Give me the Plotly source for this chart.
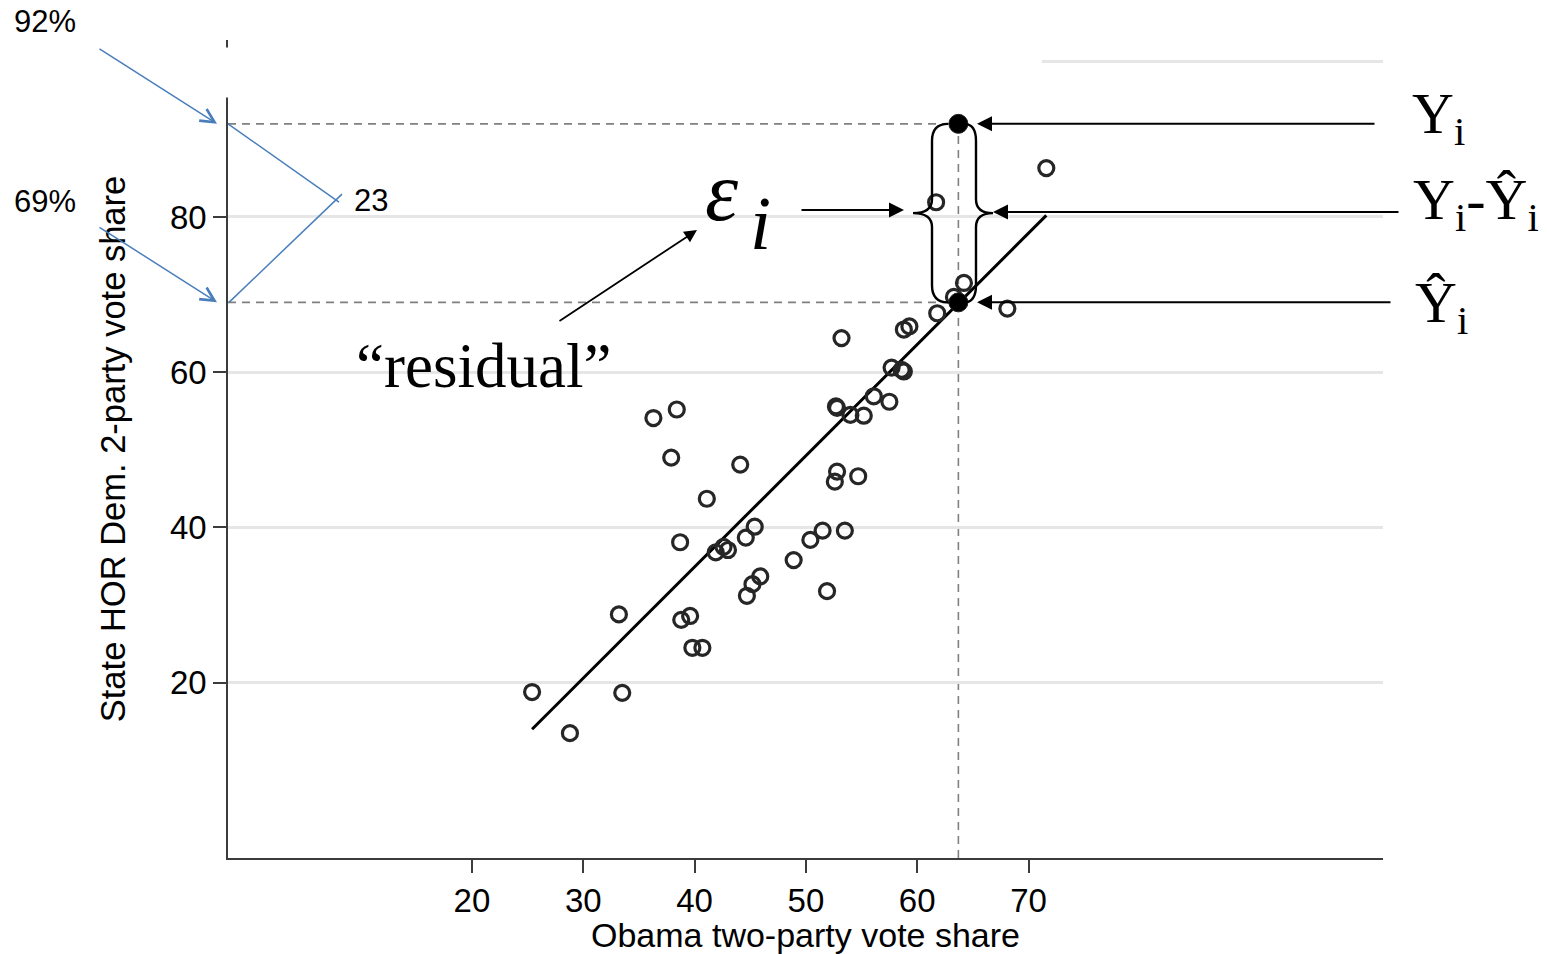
import plotly.graph_objects as go

# Obama two-party vote share (x) vs. State House Democratic 2-party vote share (y)
obama_share = [25.4, 28.8, 33.2, 33.5, 36.3, 38.4, 37.9, 38.7, 38.8, 39.6,
               39.8, 40.7, 41.1, 41.9, 42.6, 43.0, 44.1, 44.6, 45.4, 44.7,
               45.2, 45.9, 48.9, 50.4, 51.5, 51.9, 53.2, 52.7, 52.8, 54.0,
               55.2, 52.8, 52.6, 54.7, 53.5, 56.1, 57.5, 57.7, 58.6, 58.8,
               58.8, 59.3, 61.8, 61.7, 71.6, 64.2, 63.3, 68.1, 63.7]
house_dem_share = [18.8, 13.5, 28.8, 18.7, 54.1, 55.2, 49.0, 38.1, 28.1, 28.6,
                   24.5, 24.5, 43.7, 36.8, 37.5, 37.1, 48.1, 38.7, 40.1, 31.2,
                   32.7, 33.7, 35.8, 38.4, 39.6, 31.8, 64.4, 55.6, 55.4, 54.5,
                   54.4, 47.2, 45.9, 46.6, 39.6, 56.9, 56.2, 60.6, 60.3, 60.1,
                   65.5, 65.9, 67.6, 81.9, 86.3, 71.5, 69.7, 68.2, 92.0]

# Fitted regression line (endpoints over the observed x range)
fit_x = [25.4, 71.6]
fit_y = [14.0, 80.2]

# Highlighted observation i: actual value, fitted value
obs_x = 63.7
obs_y = 92.0
obs_fit = 69.0

x_ticks = [20, 30, 40, 50, 60, 70]
y_ticks = [20, 40, 60, 80, 100]
y_tick_text = ["20", "40", "60", "80", ""]

# ---- geometry ----
W, H = 1549, 954
ML, MR, MT, MB = 228, 166, 40, 96
PW, PH = W - ML - MR, H - MT - MB
X_RANGE = [-1.92, 101.85]
Y_RANGE = [-2.58, 102.8]

SANS = "Liberation Sans, Arial, sans-serif"
SERIF = "Liberation Serif, Times New Roman, serif"
BLUE = "#4a7ebb"
AXIS = "#3c3c3c"


def px_x(v):
    return ML + (v - X_RANGE[0]) / (X_RANGE[1] - X_RANGE[0]) * PW


def px_y(v):
    return MT + (Y_RANGE[1] - v) / (Y_RANGE[1] - Y_RANGE[0]) * PH


def dx(px):
    return X_RANGE[0] + (px - ML) / PW * (X_RANGE[1] - X_RANGE[0])


def pap_x(px):
    return (px - ML) / PW


def pap_y(py):
    return (H - MB - py) / PH


yi_px = px_y(obs_y)
yh_px = px_y(obs_fit)
mid_px = (yi_px + yh_px) / 2

fig = go.Figure()

fig.add_trace(go.Scatter(
    x=fit_x, y=fit_y, mode="lines",
    line=dict(color="black", width=3), hoverinfo="skip", showlegend=False))

fig.add_trace(go.Scatter(
    x=obama_share, y=house_dem_share, mode="markers",
    marker=dict(symbol="circle-open", size=15, color="#262626",
                line=dict(width=3.2)),
    showlegend=False))

fig.add_trace(go.Scatter(
    x=[obs_x, obs_x], y=[obs_y, obs_fit], mode="markers",
    marker=dict(symbol="circle", size=19, color="black",
                line=dict(width=1, color="#222")),
    showlegend=False))

shapes = []
# guide lines for observation i
dash = dict(color="#808080", width=1.6, dash="8px,6px")
shapes.append(dict(type="line", xref="x", yref="y", x0=obs_x, x1=obs_x,
                   y0=Y_RANGE[0], y1=obs_y, line=dash, layer="below"))
for yv in (obs_y, obs_fit):
    shapes.append(dict(type="line", xref="x", yref="y", x0=X_RANGE[0], x1=obs_x,
                       y0=yv, y1=yv, line=dash, layer="below"))


def brace(xv, xt, xe, yt, yb, r_end, r_mid):
    ym = (yt + yb) / 2
    pts = [
        f"M{xe:.3f},{yt:.3f}",
        f"Q{xv:.3f},{yt:.3f} {xv:.3f},{yt - r_end:.3f}",
        f"L{xv:.3f},{ym + r_mid:.3f}",
        f"Q{xv:.3f},{ym:.3f} {xt:.3f},{ym:.3f}",
        f"Q{xv:.3f},{ym:.3f} {xv:.3f},{ym - r_mid:.3f}",
        f"L{xv:.3f},{yb + r_end:.3f}",
        f"Q{xv:.3f},{yb:.3f} {xe:.3f},{yb:.3f}",
    ]
    return " ".join(pts)


brace_line = dict(color="black", width=2.4)
shapes.append(dict(type="path", xref="x", yref="y", layer="above", line=brace_line,
                   path=brace(dx(932), dx(913), dx(948), obs_y, obs_fit, 2.2, 1.8)))
shapes.append(dict(type="path", xref="x", yref="y", layer="above", line=brace_line,
                   path=brace(dx(976), dx(993), dx(964), obs_y, obs_fit, 2.2, 1.8)))

# white panel over the upper axis region
shapes.append(dict(type="rect", xref="paper", yref="paper",
                   x0=pap_x(0), x1=pap_x(1042), y0=pap_y(97.5), y1=pap_y(47.5),
                   fillcolor="white", line=dict(width=0), layer="above"))

# blue difference bracket
apex_y = mid_px - 14
shapes.append(dict(type="line", xref="paper", yref="paper",
                   x0=pap_x(228), y0=pap_y(yi_px), x1=pap_x(339), y1=pap_y(apex_y + 3),
                   line=dict(color=BLUE, width=1.5), layer="above"))
shapes.append(dict(type="line", xref="paper", yref="paper",
                   x0=pap_x(229), y0=pap_y(yh_px), x1=pap_x(342), y1=pap_y(apex_y - 5),
                   line=dict(color=BLUE, width=1.5), layer="above"))

annotations = []


def arrow(hx, hy, tx, ty, color="black", width=2.0, style=2, size=1.5):
    return dict(x=pap_x(hx), y=pap_y(hy), xref="paper", yref="paper",
                ax=tx - hx, ay=ty - hy, axref="pixel", ayref="pixel",
                text="", showarrow=True, arrowhead=style, arrowsize=size,
                arrowwidth=width, arrowcolor=color, standoff=0)


def label(px, py, text, size, family=SANS, color="black"):
    return dict(x=pap_x(px), y=pap_y(py), xref="paper", yref="paper",
                text=text, showarrow=False, xanchor="center", yanchor="middle",
                font=dict(size=size, family=family, color=color))


# blue callouts on the y axis
annotations.append(arrow(217, yi_px, 98, yi_px - 76, color=BLUE, width=1.5, style=5, size=1.8))
annotations.append(arrow(217, yh_px, 98, yh_px - 76, color=BLUE, width=1.5, style=5, size=1.8))
annotations.append(label(45, yi_px - 102, f"{obs_y:.0f}%", 31))
annotations.append(label(45, yh_px - 101, f"{obs_fit:.0f}%", 31))
annotations.append(label(371, mid_px - 13, f"{obs_y - obs_fit:.0f}", 31))

# black pointers on the right
annotations.append(arrow(977, yi_px, 1376, yi_px))
annotations.append(arrow(993, mid_px - 1, 1400, mid_px - 1))
annotations.append(arrow(977, yh_px, 1392, yh_px))
annotations.append(arrow(904, mid_px - 3, 800, mid_px - 3))
annotations.append(arrow(697, mid_px + 17, 558, mid_px + 109, width=1.8, size=1.4))

# math labels
annotations.append(label(1438, yi_px - 6, "Y<sub>i</sub>", 58, SERIF))
annotations.append(label(1476, mid_px - 10, "Y<sub>i</sub>-Ŷ<sub>i</sub>", 58, SERIF))
annotations.append(label(1441, yh_px + 4, "Ŷ<sub>i</sub>", 58, SERIF))
annotations.append(label(722, mid_px - 22, "<i>ε</i>", 84, SERIF))
annotations.append(label(760, mid_px + 10, "<i>i</i>", 76, SERIF))
annotations.append(label(483, mid_px + 153, "“residual”", 63, SERIF))

fig.update_layout(
    width=W, height=H,
    margin=dict(l=ML, r=MR, t=MT, b=MB, pad=0),
    paper_bgcolor="white", plot_bgcolor="white",
    shapes=shapes, annotations=annotations,
    showlegend=False,
    xaxis=dict(
        range=X_RANGE, tickmode="array", tickvals=x_ticks,
        ticks="outside", ticklen=13, tickwidth=1.5, tickcolor=AXIS,
        showline=True, linecolor=AXIS, linewidth=1.5,
        showgrid=False, zeroline=False,
        tickfont=dict(size=33, family=SANS, color="black"),
        title=dict(text="Obama two-party vote share", standoff=0,
                   font=dict(size=34, family=SANS, color="black")),
    ),
    yaxis=dict(
        range=Y_RANGE, tickmode="array", tickvals=y_ticks, ticktext=y_tick_text,
        ticks="outside", ticklen=13, tickwidth=1.5, tickcolor=AXIS,
        showline=True, linecolor=AXIS, linewidth=1.5,
        showgrid=True, gridcolor="#e6e6e6", gridwidth=2.5, zeroline=False,
        tickfont=dict(size=33, family=SANS, color="black"),
        title=dict(text="State HOR Dem. 2-party vote share", standoff=34,
                   font=dict(size=34.5, family=SANS, color="black")),
    ),
)

fig.write_html("out.html")
